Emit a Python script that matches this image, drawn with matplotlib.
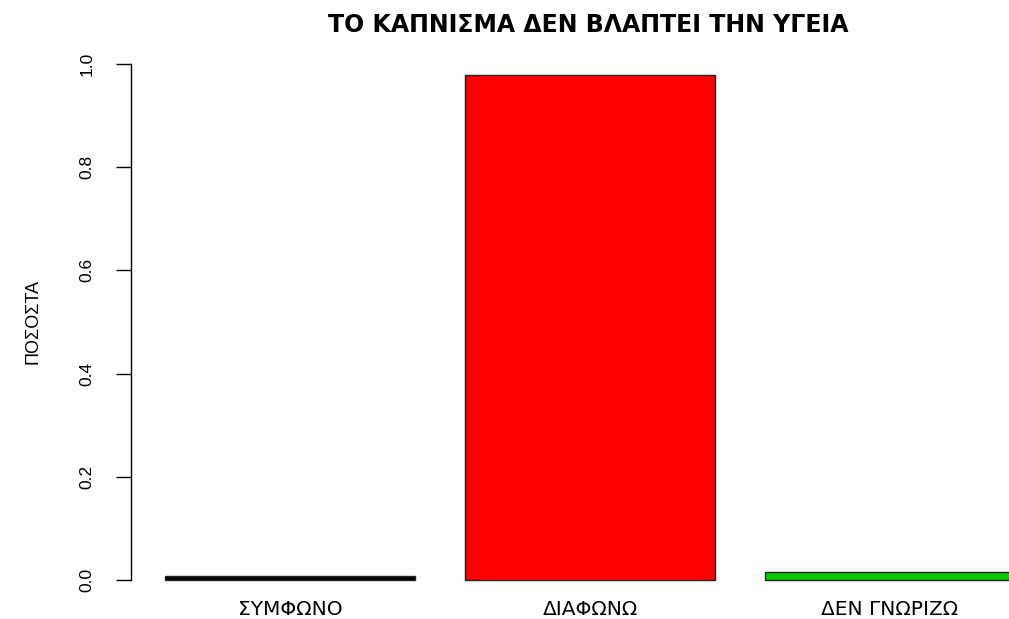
import matplotlib
matplotlib.use("Agg")
import matplotlib.pyplot as plt

categories = ["ΣΥΜΦΩΝΟ", "ΔΙΑΦΩΝΩ", "ΔΕΝ ΓΝΩΡΙΖΩ"]
values = [0.007, 0.979, 0.015]
colors = ["#000000", "#FF0000", "#00CD00"]
yticks = [0.0, 0.2, 0.4, 0.6, 0.8, 1.0]
title = "ΤΟ ΚΑΠΝΙΣΜΑ ΔΕΝ ΒΛΑΠΤΕΙ ΤΗΝ ΥΓΕΙΑ"
ylabel = "ΠΟΣΟΣΤΑ"

plt.rcParams['font.family'] = ['Liberation Sans', 'DejaVu Sans']

W, H = 1009, 619
fig = plt.figure(figsize=(W / 100, H / 100), dpi=100)

# pixel geometry: x = 115 + 250*u ; y(0)=580, y(1)=64
x0px, ux = 115, 250
y0px, uy = 580, 516
xlim = ((131 - x0px) / ux, (W - x0px) / ux)
ylim = (-0.04, 1.04)
left = 131 / W
bottom_px = y0px - ylim[0] * uy
top_px = y0px - ylim[1] * uy
ax = fig.add_axes([left, (H - bottom_px) / H, 1 - left, (bottom_px - top_px) / H])

centers = [0.7 + 1.2 * i for i in range(len(categories))]
ax.bar(centers, values, width=1.0, color=colors, edgecolor="#222222", linewidth=1.0)

ax.set_xlim(*xlim)
ax.set_ylim(*ylim)

for s in ["top", "right", "bottom"]:
    ax.spines[s].set_visible(False)
ax.spines["left"].set_bounds(0, 1)
ax.spines["left"].set_linewidth(1.0)

ax.set_yticks(yticks)
ax.set_yticklabels([f"{t:.1f}" for t in yticks], fontsize=12.5)
ax.tick_params(axis="y", length=10.8, width=1.0, pad=21)
for lab in ax.get_yticklabels():
    lab.set_rotation(90)
    lab.set_ha("center")
    lab.set_va("center")

ax.set_xticks(centers)
ax.set_xticklabels(categories, fontsize=14.5, family=["DejaVu Sans"])
ax.tick_params(axis="x", length=0, pad=6.5)
for lab in ax.get_xticklabels():
    lab.set_va("center")

fig.text(588 / W, 1 - 24.5 / H, title, ha="center", va="center",
         fontsize=17, fontweight="bold", family=["DejaVu Sans"])
fig.text(33 / W, 1 - 321 / H, ylabel, ha="center", va="center",
         rotation=90, fontsize=13)

fig.savefig("out.png", dpi=100)
